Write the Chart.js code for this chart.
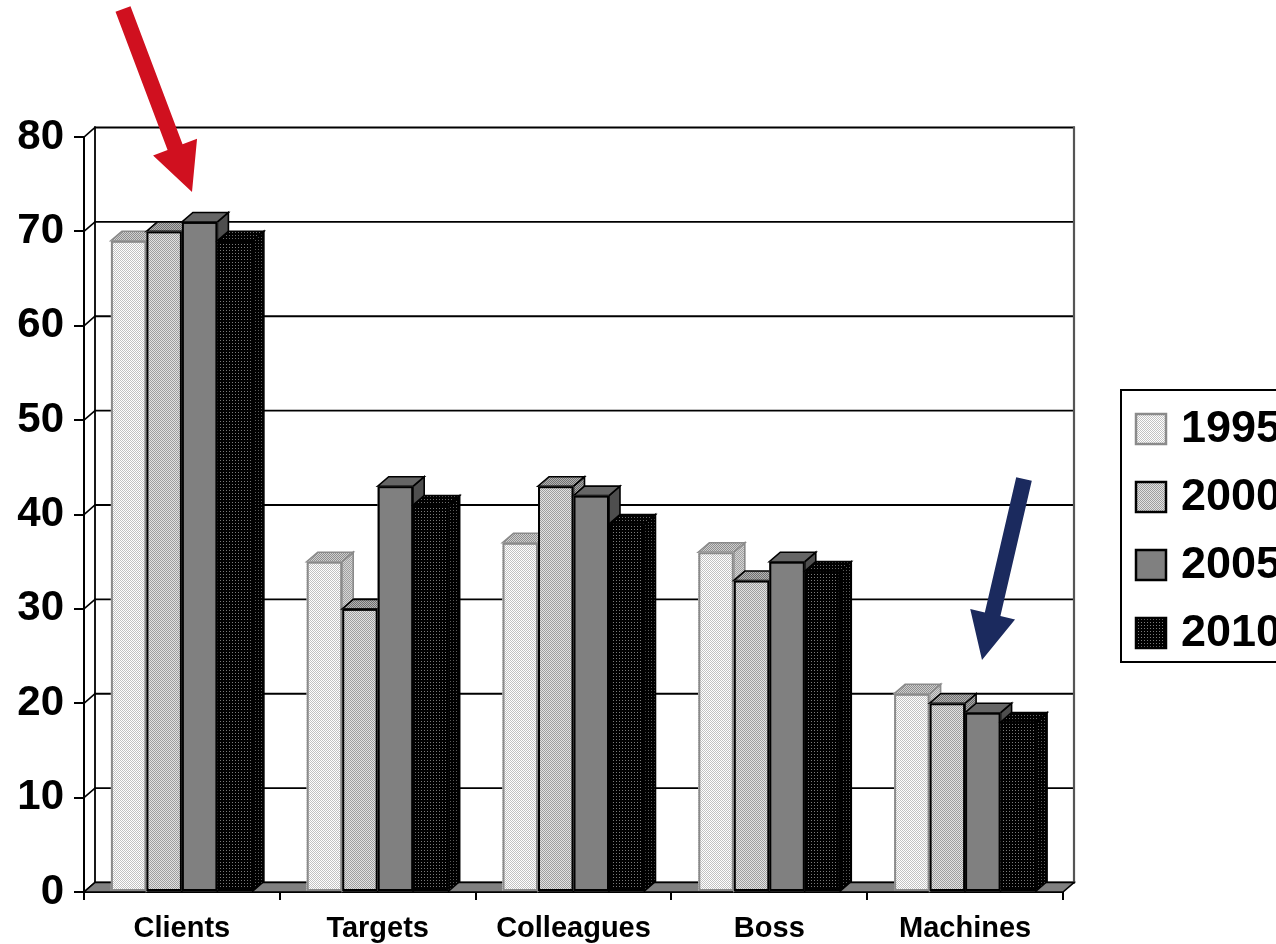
<!DOCTYPE html>
<html>
<head>
<meta charset="utf-8">
<script src="https://cdn.jsdelivr.net/npm/chart.js@4.4.1/dist/chart.umd.min.js"></script>
<style>
  html, body { margin: 0; padding: 0; background: #ffffff; }
  #wrap { width: 1276px; height: 944px; }
</style>
</head>
<body>
<div id="wrap"><canvas id="c" width="1276" height="944"></canvas></div>
<script>
// ---- data ----
const categories = ['Clients', 'Targets', 'Colleagues', 'Boss', 'Machines'];
const years = ['1995', '2000', '2005', '2010'];
const values1995 = [69, 35, 37, 36, 21];
const values2000 = [70, 30, 43, 33, 20];
const values2005 = [71, 43, 42, 35, 19];
const values2010 = [69, 41, 39, 34, 18];
const yTickValues = [0, 10, 20, 30, 40, 50, 60, 70, 80];

// ---- fills ----
function pattern(size, bg, dot, pts) {
  const c = document.createElement('canvas');
  c.width = c.height = size;
  const g = c.getContext('2d');
  g.fillStyle = bg; g.fillRect(0, 0, size, size);
  g.fillStyle = dot;
  pts.forEach(p => g.fillRect(p[0], p[1], 1, 1));
  return g.createPattern(c, 'repeat');
}
const checker = [[0, 0], [1, 1]];
const styles = [
  { front: pattern(2, '#ffffff', '#c2c2c2', checker),
    top: pattern(2, '#cfcfcf', '#8e8e8e', checker),
    side: pattern(2, '#d6d6d6', '#a0a0a0', checker),
    border: '#8a8a8a' },
  { front: pattern(2, '#e2e2e2', '#9e9e9e', checker),
    top: pattern(2, '#b4b4b4', '#707070', checker),
    side: pattern(2, '#a8a8a8', '#686868', checker),
    border: '#000000' },
  { front: '#808080', top: '#666666', side: '#4e4e4e', border: '#000000' },
  { front: pattern(3, '#000000', '#7a7a7a', [[1, 1]]),
    top: pattern(3, '#000000', '#6a6a6a', [[1, 1]]),
    side: pattern(3, '#000000', '#5a5a5a', [[0, 0]]),
    border: '#000000' }
];

const DX = 11, DY = 9.5;   // depth offset of the 3-D box
const FONT = 'Liberation Sans';

function poly(ctx, pts, fill, stroke, lw) {
  ctx.beginPath();
  ctx.moveTo(pts[0][0], pts[0][1]);
  for (let i = 1; i < pts.length; i++) ctx.lineTo(pts[i][0], pts[i][1]);
  ctx.closePath();
  if (fill) { ctx.fillStyle = fill; ctx.fill(); }
  if (stroke) { ctx.strokeStyle = stroke; ctx.lineWidth = lw; ctx.stroke(); }
}

// back wall, side wall, floor and the 3-D faces of every column
const boxPlugin = {
  id: 'box3d',
  beforeDatasetsDraw(chart) {
    const ctx = chart.ctx, a = chart.chartArea, ys = chart.scales.y;
    const L = a.left, R = a.right, B = ys.getPixelForValue(0);
    ctx.save();
    ctx.lineCap = 'square';
    yTickValues.forEach(v => {
      const py = ys.getPixelForValue(v);
      ctx.beginPath();
      ctx.moveTo(L + DX, py - DY); ctx.lineTo(R + DX, py - DY);
      ctx.strokeStyle = '#000'; ctx.lineWidth = 1.8; ctx.stroke();
      ctx.beginPath();
      ctx.moveTo(L, py); ctx.lineTo(L + DX, py - DY);
      ctx.lineWidth = 1.6; ctx.stroke();
    });
    const top = ys.getPixelForValue(80);
    ctx.beginPath();
    ctx.moveTo(L + DX, top - DY); ctx.lineTo(L + DX, B - DY);
    ctx.lineWidth = 1.8; ctx.stroke();
    ctx.beginPath();
    ctx.moveTo(R + DX, top - DY); ctx.lineTo(R + DX, B - DY);
    ctx.strokeStyle = '#555'; ctx.lineWidth = 2.2; ctx.stroke();
    poly(ctx, [[L, B], [R, B], [R + DX, B - DY], [L + DX, B - DY]], '#808080', '#000', 1.6);
    ctx.restore();
  },
  afterDatasetsDraw(chart) {
    const ctx = chart.ctx;
    ctx.save();
    ctx.lineJoin = 'miter';
    // series are painted left to right so each column hides its neighbour's side face
    chart.data.datasets.forEach((ds, i) => {
      const st = styles[i];
      chart.getDatasetMeta(i).data.forEach(bar => {
        const p = bar.getProps(['x', 'y', 'width', 'base'], true);
        const l = p.x - p.width / 2, r = p.x + p.width / 2;
        poly(ctx, [[r, p.y], [r + DX, p.y - DY], [r + DX, p.base - DY], [r, p.base]], st.side, st.border, 1.6);
        poly(ctx, [[l, p.y], [r, p.y], [r + DX, p.y - DY], [l + DX, p.y - DY]], st.top, st.border, 1.6);
        ctx.fillStyle = st.front;
        ctx.fillRect(l, p.y, p.width, p.base - p.y);
        ctx.strokeStyle = st.border; ctx.lineWidth = 2;
        ctx.strokeRect(l + 1, p.y + 1, p.width - 2, p.base - p.y - 2);
      });
    });
    ctx.restore();
  }
};

function arrow(ctx, tx, ty, px, py, shaftW, headW, headL, color) {
  const dx = px - tx, dy = py - ty, len = Math.hypot(dx, dy);
  const ux = dx / len, uy = dy / len, nx = -uy, ny = ux;
  const bx = px - ux * headL, by = py - uy * headL;
  poly(ctx, [
    [tx + nx * shaftW / 2, ty + ny * shaftW / 2],
    [bx + nx * shaftW / 2, by + ny * shaftW / 2],
    [bx + nx * headW / 2, by + ny * headW / 2],
    [px, py],
    [bx - nx * headW / 2, by - ny * headW / 2],
    [bx - nx * shaftW / 2, by - ny * shaftW / 2],
    [tx - nx * shaftW / 2, ty - ny * shaftW / 2]
  ], color, null, 0);
}

// legend box and the two pointer arrows
const extrasPlugin = {
  id: 'extras',
  afterDraw(chart) {
    const ctx = chart.ctx;
    ctx.save();
    ctx.strokeStyle = '#000'; ctx.lineWidth = 2;
    ctx.strokeRect(1121, 390, 200, 272);
    ctx.font = 'bold 45px "' + FONT + '"';
    ctx.textBaseline = 'middle'; ctx.textAlign = 'left';
    chart.data.datasets.forEach((ds, i) => {
      const cy = 429 + i * 68;
      const st = styles[i];
      ctx.fillStyle = st.front;
      ctx.fillRect(1136, cy - 15, 30, 30);
      ctx.strokeStyle = st.border; ctx.lineWidth = 2.5;
      ctx.strokeRect(1136, cy - 15, 30, 30);
      ctx.fillStyle = '#000';
      ctx.fillText(ds.label, 1181, cy + 1);
    });
    arrow(ctx, 123, 9, 192, 192, 16, 47, 48, '#d0101f');
    arrow(ctx, 1024, 479, 982, 660, 16, 46, 47, '#1b2a5e');
    ctx.restore();
  }
};

const seriesValues = [values1995, values2000, values2005, values2010];

new Chart(document.getElementById('c'), {
  type: 'bar',
  data: {
    labels: categories,
    datasets: years.map((yr, i) => ({
      label: yr,
      data: seriesValues[i],
      backgroundColor: styles[i].front,
      borderColor: styles[i].border,
      borderWidth: 0,
      categoryPercentage: 0.725,
      barPercentage: 1.0
    }))
  },
  options: {
    responsive: false,
    animation: false,
    devicePixelRatio: 1,
    layout: { padding: { top: 137, right: 213, left: 0, bottom: 0 } },
    plugins: { legend: { display: false }, tooltip: { enabled: false } },
    scales: {
      x: {
        ticks: { color: '#000', font: { family: FONT, weight: 'bold', size: 29 }, padding: 12, maxRotation: 0, autoSkip: false },
        grid: { drawOnChartArea: false, tickLength: 8, color: '#000', lineWidth: 2, offset: true },
        border: { color: '#000', width: 2 },
        afterFit(s) { s.height = 52; }
      },
      y: {
        min: 0, max: 80,
        afterBuildTicks(s) { s.ticks = yTickValues.map(v => ({ value: v })); },
        ticks: { color: '#000', font: { family: FONT, weight: 'bold', size: 42 }, padding: 10 },
        grid: { drawOnChartArea: false, tickLength: 10, color: '#000', lineWidth: 2 },
        border: { color: '#000', width: 2 },
        afterFit(s) { s.width = 84; }
      }
    }
  },
  plugins: [boxPlugin, extrasPlugin]
});
</script>
</body>
</html>
